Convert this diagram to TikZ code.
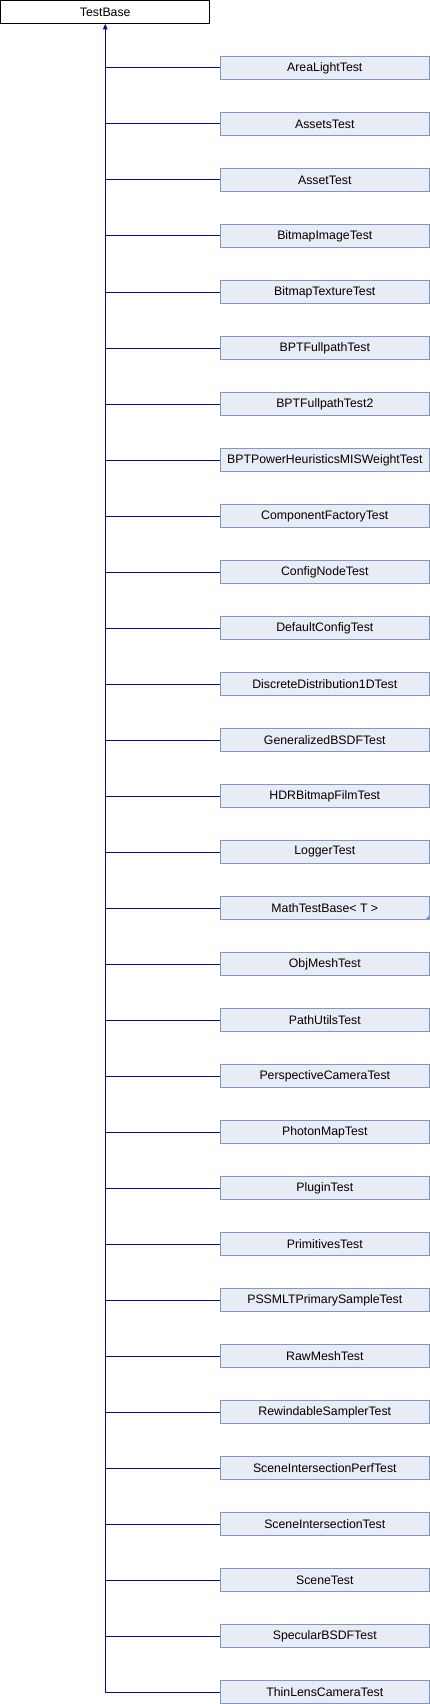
\documentclass[tikz,border=0pt]{standalone}
\usepackage{fontspec}
\setmainfont{Liberation Sans}
\usetikzlibrary{arrows.meta}
\definecolor{boxfill}{HTML}{E8ECF5}
\definecolor{boxline}{HTML}{7E98C9}
\definecolor{edgecol}{HTML}{0A0AA0}
\begin{document}
\begin{tikzpicture}[x=1pt,y=1pt,
  basebox/.style={draw=black,fill=white,line width=1pt,minimum width=209pt,minimum height=22.6pt,inner sep=0pt,font=\fontsize{12.3}{14}\selectfont},
  kidbox/.style={draw=boxline,fill=boxfill,line width=1pt,minimum width=209pt,minimum height=22.6pt,inner sep=0pt,font=\fontsize{12.3}{14}\selectfont},
  edge/.style={draw=edgecol,line width=1pt},
  inherit/.style={edge,-{Triangle[width=4.5pt,length=5.5pt]}}]
\useasboundingbox (0,0) rectangle (430,-1704);
\node[basebox] (base) at (105.25,-12) {TestBase};
\foreach \nm [count=\i from 0] in {AreaLightTest,AssetsTest,AssetTest,BitmapImageTest,BitmapTextureTest,BPTFullpathTest,BPTFullpathTest2,BPTPowerHeuristicsMISWeightTest,ComponentFactoryTest,ConfigNodeTest,DefaultConfigTest,DiscreteDistribution1DTest,GeneralizedBSDFTest,HDRBitmapFilmTest,LoggerTest,MathTestBase< T >,ObjMeshTest,PathUtilsTest,PerspectiveCameraTest,PhotonMapTest,PluginTest,PrimitivesTest,PSSMLTPrimarySampleTest,RawMeshTest,RewindableSamplerTest,SceneIntersectionPerfTest,SceneIntersectionTest,SceneTest,SpecularBSDFTest,ThinLensCameraTest}{
  \node[kidbox] (c\i) at (324.8,{-(68+56*\i)}) {\nm};
  \draw[edge] (c\i.west) -- (c\i.west -| base.south);
}
\coordinate (trunkend) at (c29.west -| base.south);
\draw[inherit] (trunkend) -- (base.south);
\fill[boxline] (c15.south east) -- ++(-5,0) -- ++(5,5) -- cycle;
\end{tikzpicture}
\end{document}
